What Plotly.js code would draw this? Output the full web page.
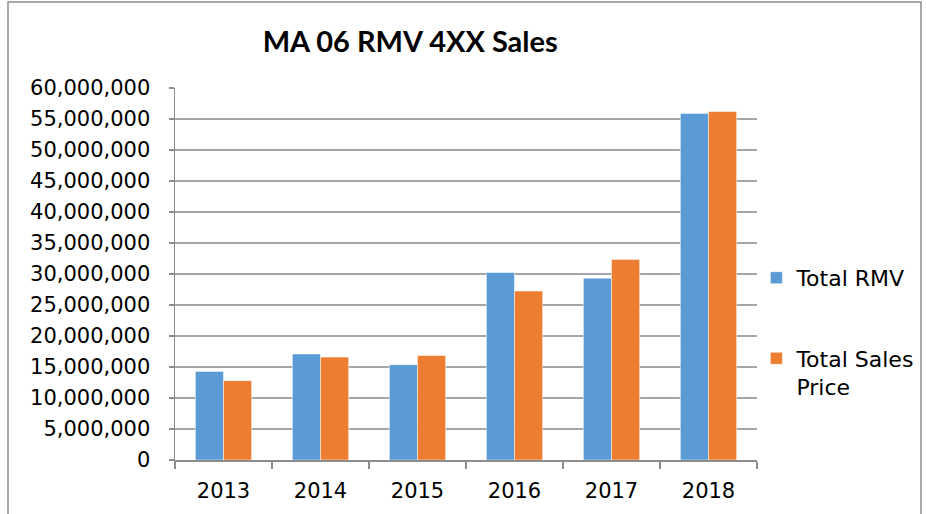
<!DOCTYPE html>
<html>
<head>
<meta charset="utf-8">
<script src="https://cdn.plot.ly/plotly-3.0.1.min.js"></script>
<style>html,body{margin:0;padding:0;background:#fff;}#chart{width:926px;height:514px;}</style>
</head>
<body>
<div id="chart"></div>
<script>
var years = ['2013', '2014', '2015', '2016', '2017', '2018'];
var totalRMV = [14280000, 17100000, 15370000, 30250000, 29330000, 55900000];
var totalSales = [12800000, 16600000, 16850000, 27250000, 32350000, 56200000];
var yTicks = [0, 5000000, 10000000, 15000000, 20000000, 25000000, 30000000, 35000000, 40000000, 45000000, 50000000, 55000000, 60000000];
var yTickText = yTicks.map(function(v){ return v.toLocaleString('en-US'); });

var FONT = '"DejaVu Sans", sans-serif';
var TFONT = 'Lato, "Open Sans", sans-serif';

var traces = [
  {type:'bar', x: years, y: totalRMV, name:'Total RMV', legendgroup:'a',
   marker:{color:'#5B9BD5', line:{color:'#ffffff', width:0.5}}},
  {type:'bar', x: years, y: totalSales, name:'Total Sales<br>Price', legendgroup:'b',
   marker:{color:'#ED7D31', line:{color:'#ffffff', width:0.5}}}
];

var layout = {
  width: 926, height: 514,
  margin: {l:175, r:169, t:88, b:54, autoexpand:false},
  paper_bgcolor:'#ffffff', plot_bgcolor:'#ffffff',
  font:{family: FONT, size:21, color:'#000000'},
  title:{text:'<b>MA 06 RMV 4XX Sales</b>', x:0.443, xanchor:'center', y:0.918, yanchor:'middle',
         font:{family: TFONT, size:29, color:'#000000'}},
  barmode:'group', bargap:0.42, bargroupgap:0,
  showlegend:true,
  legend:{x:0.999, xanchor:'left', y:0.546, yanchor:'top', traceorder:'grouped', tracegroupgap:49,
          bgcolor:'rgba(0,0,0,0)', valign:'top', font:{family: FONT, size:22, color:'#000000'}, itemwidth:30},
  xaxis:{type:'category', showline:true, linecolor:'#8c8c8c', linewidth:1.5,
         ticks:'outside', tickson:'boundaries', ticklen:7, tickcolor:'#8c8c8c', tickwidth:1.5,
         showgrid:false, ticklabelstandoff:11, tickfont:{family: FONT, size:21}, automargin:false},
  yaxis:{range:[0, 60000000], tickvals: yTicks, ticktext: yTickText,
         showline:true, linecolor:'#8c8c8c', linewidth:1.5,
         ticks:'outside', ticklen:5, tickcolor:'#8c8c8c', tickwidth:1.5,
         showgrid:true, gridcolor:'#a6a6a6', gridwidth:1.5, zeroline:false, automargin:false,
         ticklabelstandoff:14, tickfont:{family: FONT, size:21}},
  shapes:[
    {type:'rect', xref:'paper', yref:'paper', x0:(8-175)/582, x1:(921-175)/582, y0:-0.2, y1:(460-2)/372,
     line:{color:'#8c8c8c', width:1.5}, fillcolor:'rgba(0,0,0,0)', layer:'below'}
  ]
};

Plotly.newPlot('chart', traces, layout, {displayModeBar:false, staticPlot:true});
</script>
</body>
</html>
